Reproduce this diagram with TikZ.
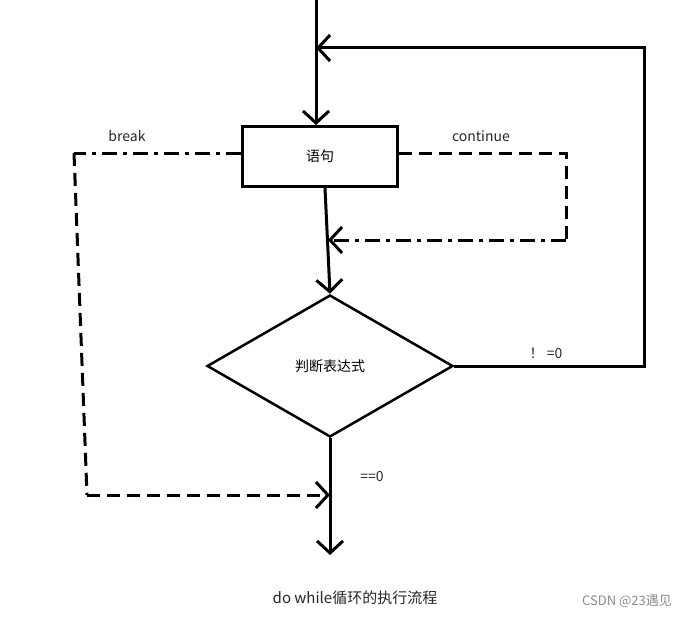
\documentclass[tikz,border=0pt]{standalone}
\usepackage{fontspec}
\setmainfont{Noto Sans CJK SC}
\usetikzlibrary{positioning, arrows.meta, shapes.geometric}

\tikzset{
  flow/.style={line width=3pt, -{Straight Barb[length=12pt,width=26pt]}},
  edge/.style={line width=3pt},
  dashline/.style={line width=3pt, dash pattern=on 13pt off 7pt},
  dotline/.style={line width=3pt, dash pattern=on 15pt off 6pt on 4pt off 6pt},
  stmtbox/.style={draw, line width=3pt, minimum width=155pt, minimum height=60pt, inner sep=0pt, font=\fontsize{14}{16}\selectfont},
  condbox/.style={draw, diamond, line width=2.5pt, minimum width=246pt, minimum height=142pt, inner sep=0pt, font=\fontsize{14}{16}\selectfont},
  lbl/.style={font=\fontsize{14}{16}\selectfont, text=black!85}
}

\begin{document}
\begin{tikzpicture}[x=1pt, y=-1pt]
\useasboundingbox (0,0) rectangle (687,618);

% Statement box and condition
\node[stmtbox] (stmt) at (320,156.5) {语句};
\node[condbox] (cond) at (330,366) {判断表达式};

% Entry and loop back
\coordinate (top) at (316,0);
\coordinate (loopR) at (644,366);
\coordinate (loopT) at (644,48);
\draw[flow] (top) -- (top |- stmt.north);
\draw[flow] (cond.east) -- (loopR) -- (loopT) -- (top |- loopT);
\draw[flow] ([xshift=5pt]stmt.south) -- (cond.north);

% Exit
\coordinate (exit) at (330,555);
\draw[flow] (cond.south) -- (exit);

% break path
\coordinate (brkA) at (74,153);
\coordinate (brkB) at (87,495);
\coordinate (brkEnd) at (330,495);
\draw[dotline] ([yshift=3.5pt]stmt.west) -- (brkA);
\draw[dashline] (brkA) -- (brkB);
\draw[dashline, -{Straight Barb[length=12pt,width=26pt]}] (brkB) -- (brkEnd);

% continue path
\coordinate (conA) at (566,153);
\coordinate (conB) at (566,240);
\coordinate (conEnd) at (328,240);
\draw[dashline] ([yshift=3.5pt]stmt.east) -- (conA) -- (conB);
\draw[dotline, -{Straight Barb[length=12pt,width=26pt]}] (conB) -- (conEnd);

% Labels
\node[lbl] (brk) at (127,136) {break};
\node[lbl] (con) at (481,136) {continue};
\node[lbl] (ne) at (546,353) {！ =0};
\node[lbl] (eq) at (372,477) {==0};
\node[font=\fontsize{15}{17}\selectfont, text=black!85] (title) at (355,598) {do while循环的执行流程};
\node[font=\fontsize{13}{15}\selectfont, text=black!45] (mark) at (627,601) {CSDN @23遇见};
\end{tikzpicture}
\end{document}
